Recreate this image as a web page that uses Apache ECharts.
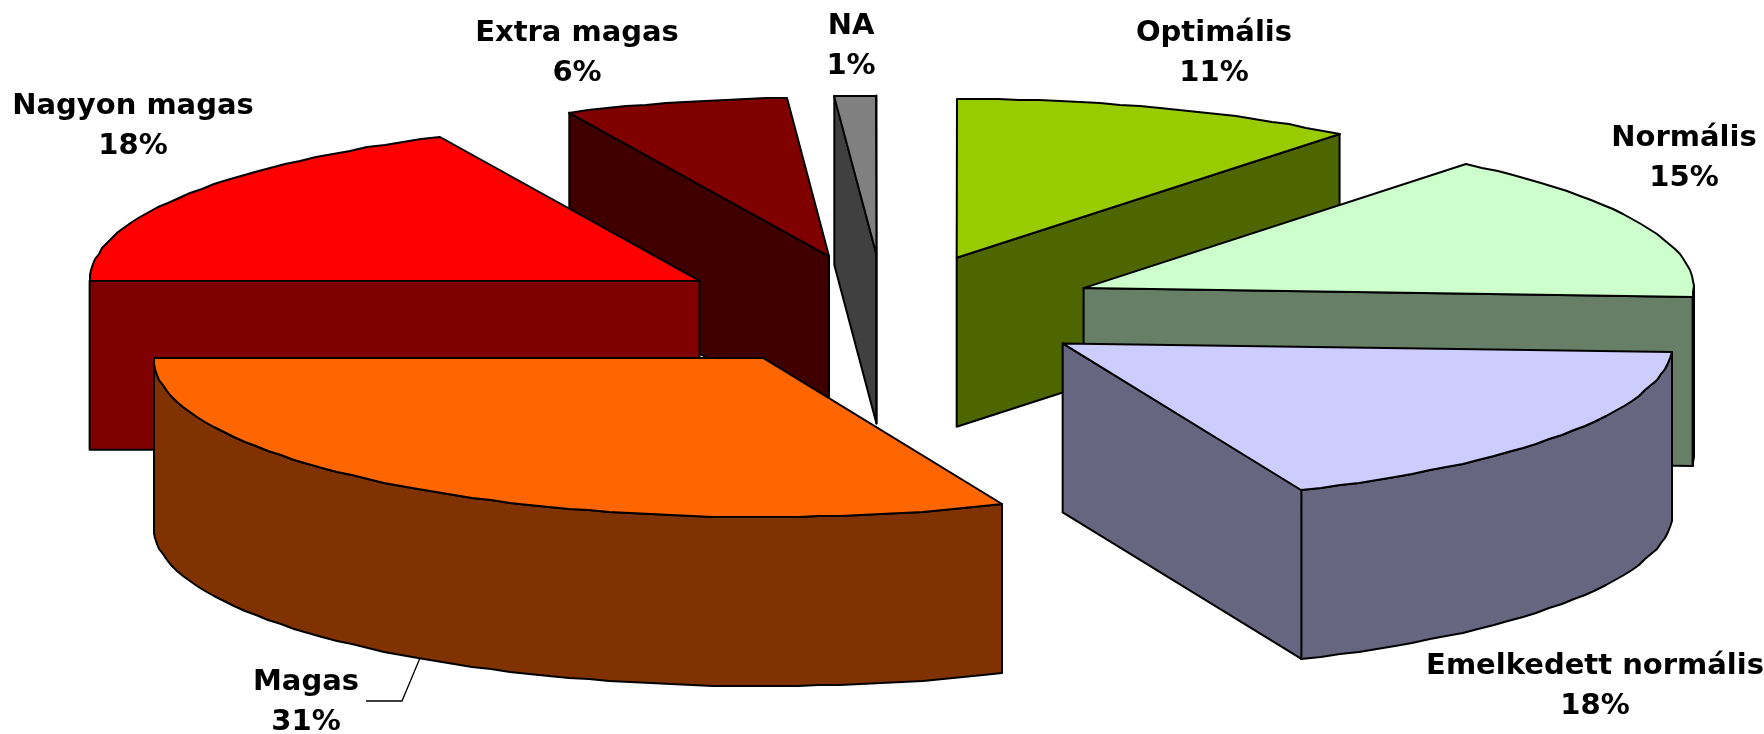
<!DOCTYPE html>
<html><head><meta charset="utf-8">
<style>html,body{margin:0;padding:0;background:#fff}#c{width:1764px;height:734px}</style>
<script src="https://cdn.jsdelivr.net/npm/echarts@6/dist/echarts.min.js"></script>
</head><body><div id="c"></div>
<script>
// Data
const categories = ['Optimális','Normális','Emelkedett normális','Magas','Nagyon magas','Extra magas','NA'];
const shares = [10.8,15.1,17.7,31.4,18.0,5.9,1.1];
const topColors = ['#99CC00','#CCFFCC','#CCCCFF','#FF6600','#FF0000','#800000','#808080'];
const sideColors = ['#4D6600','#667F66','#666680','#803300','#800000','#400000','#404040'];

// Pie geometry and label layout
const PIE = {cx:884, cy:311, rx:610, ry:159, depth:169, explodeX:0.358, explodeY:0.355};
const LABELS = [[1214,53],[1684,158],[1595,686],[306,702],[133,126],[577,53],[851,46]];
const LEADER = {3:[[420,658],[402,701],[366,701]]};
const FONT = '"DejaVu Sans", sans-serif';

const total = shares.reduce((a,b)=>a+b,0);
const starts = []; shares.reduce((s,v,i)=>{starts[i]=s;return s+v;},0);
const rad = v => v/total*2*Math.PI;
const apexY = i => -Math.cos(rad(starts[i]+shares[i]/2));
const rank = categories.map((_,i)=>i).sort((a,b)=>apexY(a)-apexY(b));

function renderItem(params, api){
  const i = api.value(0), v = api.value(1);
  const a0 = rad(starts[i]), a1 = a0 + rad(v), mid = (a0+a1)/2;
  const ox = PIE.cx + PIE.rx*PIE.explodeX*Math.sin(mid);
  const oy = PIE.cy - PIE.ry*PIE.explodeY*Math.cos(mid);
  const pt = (a,dy=0)=>api.coord([ox+PIE.rx*Math.sin(a), oy-PIE.ry*Math.cos(a)+dy]);
  const apex = api.coord([ox,oy]), apexB = api.coord([ox,oy+PIE.depth]);
  const arc = (from,to,dy=0)=>{
    const n = Math.max(1,Math.ceil(Math.abs(to-from)/(Math.PI/90))), out=[];
    for(let k=0;k<=n;k++){const p=pt(from+(to-from)*k/n,dy);out.push([Math.round(p[0]),Math.round(p[1])]);}
    return out;
  };
  const z = rank.indexOf(i)*10;
  const line = {stroke:'#000',lineWidth:2,lineJoin:'round'};
  const poly = (points,fill,zz)=>({type:'polygon',z2:z+zz,shape:{points},style:Object.assign({fill},line)});
  const children = [];
  const side = sideColors[i], top = topColors[i];
  // outer wall on the part of the rim that faces the viewer
  const w0 = Math.max(a0,Math.PI/2), w1 = Math.min(a1,3*Math.PI/2);
  if(w1>w0) children.push(poly(arc(w0,w1).concat(arc(w1,w0,PIE.depth)),side,1));
  // radial cut faces
  if(Math.sin(a0)<0) children.push(poly([apex,pt(a0),pt(a0,PIE.depth),apexB],side,2));
  if(Math.sin(a1)>0) children.push(poly([apex,pt(a1),pt(a1,PIE.depth),apexB],side,2));
  children.push(poly([apex].concat(arc(a0,a1)),top,3));
  const lp = api.coord(LABELS[i]);
  children.push({type:'text',z2:200,x:lp[0],y:lp[1],style:{
    text:categories[i]+'\n'+Math.round(v)+'%',x:0,y:0,align:'center',verticalAlign:'middle',
    fill:'#000',font:'bold 29px '+FONT,lineHeight:40,textAlign:'center',textVerticalAlign:'middle'}});
  if(LEADER[i]) children.push({type:'polyline',z2:200,shape:{points:LEADER[i].map(p=>api.coord(p))},style:{fill:null,stroke:'#000',lineWidth:1.3}});
  return {type:'group',children};
}

const chart = echarts.init(document.getElementById('c'),null,{renderer:'canvas'});
chart.setOption({
  animation:false,
  backgroundColor:'#fff',
  grid:{left:0,right:0,top:0,bottom:0},
  xAxis:{type:'value',min:0,max:1764,show:false},
  yAxis:{type:'value',min:0,max:734,inverse:true,show:false},
  series:[{type:'custom',clip:false,renderItem,
    encode:{x:0,y:1},
    data:shares.map((v,i)=>[i,v])}]
});
</script></body></html>
